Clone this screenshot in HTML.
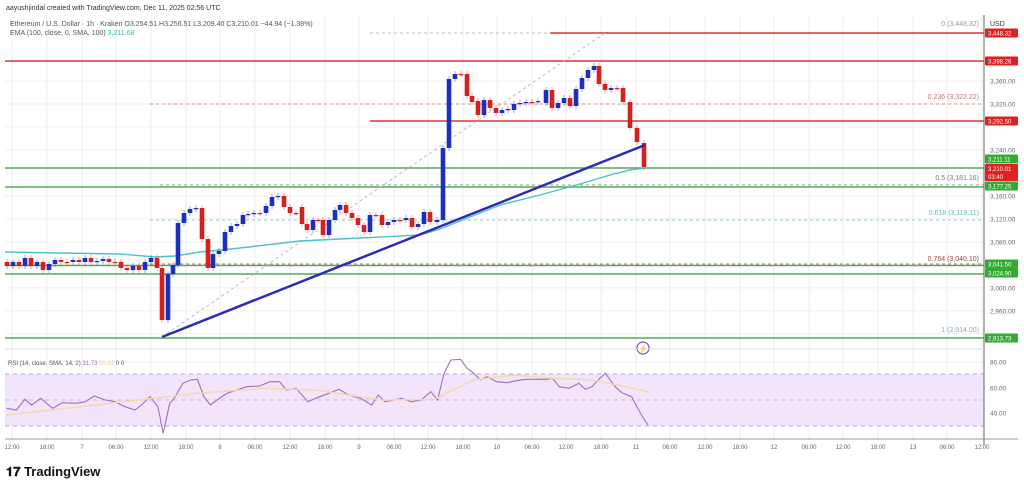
<!DOCTYPE html>
<html><head><meta charset="utf-8"><style>
html,body{margin:0;padding:0;background:#fff;width:1024px;height:488px;overflow:hidden;font-family:"Liberation Sans",sans-serif}
</style></head><body>
<svg id="s" width="1024" height="488" xmlns="http://www.w3.org/2000/svg" font-family="Liberation Sans, sans-serif">
<rect width="1024" height="488" fill="#fff"/>
<g id="grid"></g>
<!-- RSI band -->
<rect x="5" y="374" width="979" height="52" fill="#f1e4fb"/>
<line x1="5" y1="374" x2="984" y2="374" stroke="#b9a3cc" stroke-dasharray="4,4"/>
<line x1="5" y1="400" x2="984" y2="400" stroke="#c9b8d8" stroke-dasharray="4,4"/>
<line x1="5" y1="426" x2="984" y2="426" stroke="#b9a3cc" stroke-dasharray="4,4"/>
<!-- levels -->
<line x1="370" y1="33" x2="550" y2="33" stroke="#bbb" stroke-dasharray="3,3"/>
<line x1="550" y1="33" x2="984" y2="33" stroke="#d33" stroke-width="1.6"/>
<line x1="5" y1="61" x2="984" y2="61" stroke="#d33" stroke-width="1.6"/>
<line x1="150" y1="104" x2="984" y2="104" stroke="#c88" stroke-dasharray="3,3"/>
<line x1="370" y1="121" x2="984" y2="121" stroke="#d33" stroke-width="1.6"/>
<line x1="5" y1="168" x2="984" y2="168" stroke="#5a5" stroke-width="1.4"/>
<line x1="160" y1="185" x2="984" y2="185" stroke="#999" stroke-dasharray="3,3"/>
<line x1="5" y1="187" x2="984" y2="187" stroke="#5a5" stroke-width="1.4"/>
<line x1="150" y1="220" x2="984" y2="220" stroke="#9cc" stroke-dasharray="3,3"/>
<line x1="150" y1="264" x2="984" y2="264" stroke="#a77" stroke-dasharray="3,3"/>
<line x1="5" y1="265.5" x2="984" y2="265.5" stroke="#5a5" stroke-width="1.4"/>
<line x1="5" y1="274" x2="984" y2="274" stroke="#5a5" stroke-width="1.4"/>
<line x1="5" y1="338" x2="984" y2="338" stroke="#5a5" stroke-width="1.4"/>
<line x1="162" y1="337" x2="605" y2="33" stroke="#bbb" stroke-dasharray="3,3"/>
<polyline fill="none" stroke="#4cc3cc" stroke-width="1.4" points="5,252 60,253 120,254 155,257 175,256 200,252 240,248 300,241 360,238 420,235 440,229 470,217 500,205 540,195 580,184 610,175 630,170 645,168"/>
<g id="c"></g>
<line x1="162" y1="337" x2="645" y2="145" stroke="#2b2bb5" stroke-width="2.5"/>
<circle cx="643" cy="348" r="6" fill="#fff" stroke="#7a4fc0" stroke-width="1.2"/>
<text x="643" y="351.5" font-size="8" fill="#7a4fc0" text-anchor="middle">⚡</text>
<!-- RSI -->
<polyline id="rsi" fill="none" stroke="#a070c0" stroke-width="1.1"/>
<polyline id="sma" fill="none" stroke="#f5d9a8" stroke-width="1.4"/>
<!-- axes -->
<line x1="984" y1="15" x2="984" y2="445" stroke="#666"/>
<line x1="5" y1="439" x2="1018" y2="439" stroke="#999"/>
<line x1="5" y1="349" x2="984" y2="349" stroke="#ddd"/>
<g id="ax" font-size="6.5" fill="#666"></g>
<g id="tl" font-size="6" fill="#666" text-anchor="middle"></g>
<g id="fib" font-size="7" text-anchor="end">
<text x="979" y="26" fill="#999">0 (3,448.32)</text>
<text x="979" y="99" fill="#b77">0.236 (3,322.22)</text>
<text x="979" y="180" fill="#777">0.5 (3,181.16)</text>
<text x="979" y="215" fill="#6bb">0.618 (3,118.11)</text>
<text x="979" y="261" fill="#944">0.764 (3,040.10)</text>
<text x="979" y="332" fill="#8ac">1 (2,914.00)</text>
</g>
<text x="6" y="10" font-size="7" fill="#333">aayushjindal created with TradingView.com, Dec 11, 2025 02:56 UTC</text>
<text x="10" y="26" font-size="7" fill="#555">Ethereum / U.S. Dollar · 1h · Kraken  O3,254.51  H3,256.51  L3,209.40  C3,210.01  −44.94 (−1.38%)</text>
<text x="10" y="35" font-size="7" fill="#555">EMA (100, close, 0, SMA, 100) <tspan fill="#3bb">3,211.68</tspan></text>
<text x="8" y="365" font-size="6" fill="#555">RSI (14, close, SMA, 14, 2) <tspan fill="#a070c0">31.73</tspan> <tspan fill="#e8d28a">50.02</tspan> 0 0</text>
<text x="990" y="26" font-size="7" fill="#333">USD</text>
<text x="6" y="476" font-size="13" font-weight="bold" fill="#111">𝟏𝟕 TradingView</text>
</svg>
<script>
var S="http://www.w3.org/2000/svg";
function el(p,t,a,tx){var e=document.createElementNS(S,t);for(var k in a)e.setAttribute(k,a[k]);if(tx!=null)e.textContent=tx;document.getElementById(p).appendChild(e);return e;}
// grid
var tx=[12,47,82,116,151,186,220,255,290,325,359,394,428,463,497,532,566,601,636,670,705,740,774,809,843,878,913,947,982];
var tl=["12:00","18:00","7","06:00","12:00","18:00","8","06:00","12:00","18:00","9","06:00","12:00","18:00","10","06:00","12:00","18:00","11","06:00","12:00","18:00","12","06:00","12:00","18:00","13","06:00","12:00"];
tx.forEach(function(x,i){el("grid","line",{x1:x,y1:15,x2:x,y2:439,stroke:"#ececec"});el("tl","text",{x:x,y:449},tl[i]);});
for(var p=3360;p>=2920;p-=40){var y=81+(3360-p)*0.5745;el("grid","line",{x1:5,y1:y,x2:984,y2:y,stroke:"#efefef"});}
[362,388,413].forEach(function(y){el("grid","line",{x1:5,y1:y,x2:984,y2:y,stroke:"#efefef"});});
// axis labels
var al=[[81,"3,360.00"],[104,"3,320.00"],[150,"3,240.00"],[196,"3,160.00"],[219,"3,120.00"],[242,"3,080.00"],[288,"3,000.00"],[311,"2,960.00"],[362,"80.00"],[388,"60.00"],[413,"40.00"]];
al.forEach(function(a){el("ax","text",{x:990,y:a[0]+2.5},a[1]);});
var bx=[[33,"#d22","3,448.32"],[61,"#d22","3,398.26"],[121,"#d22","3,292.50"],[159,"#3a3","3,211.11"],[186,"#3a3","3,177.25"],[264,"#3a3","3,041.50"],[273,"#3a3","3,024.90"],[338,"#3a3","2,913.73"]];
bx.forEach(function(b){el("ax","rect",{x:985,y:b[0]-4.5,width:33,height:9,fill:b[1],rx:1});el("ax","text",{x:988,y:b[0]+2.3,fill:"#fff","font-size":6},b[2]);});
el("ax","rect",{x:985,y:164,width:33,height:17,fill:"#d22",rx:1});
el("ax","text",{x:988,y:171,fill:"#fff","font-size":6},"3,210.01");
el("ax","text",{x:988,y:179,fill:"#fff","font-size":6},"03:40");
// candles [x,open,close]
var d=[[7,262,266],[13,266,262],[19,262,266],[25,266,258],[31,258,266],[37,266,262],[43,262,270],[49,270,264],[55,264,260],[61,260,262],[67,262,262],[73,262,260],[79,260,262],[85,262,258],[91,258,262],[97,262,261],[103,261,259],[109,259,262],[115,262,262],[121,262,268],[127,268,270],[133,270,266],[139,266,270],[145,270,262],[151,262,258],[157,258,268],[162,268,320],[168,320,274],[173,274,265],[178,265,223],[184,223,213],[190,213,209],[196,209,208],[202,208,239],[208,239,268],[213,268,254],[219,254,251],[225,251,232],[231,232,226],[237,226,224],[243,224,215],[248,215,214],[254,214,213],[260,213,213],[266,213,206],[272,206,197],[278,197,196],[284,196,207],[290,207,213],[296,213,213],[302,207,224],[307,224,230],[313,230,220],[318,220,220],[323,220,235],[329,235,220],[335,220,210],[340,210,205],[346,205,213],[352,213,218],[358,218,225],[364,225,232],[370,232,215],[376,215,215],[382,215,225],[388,225,222],[394,222,220],[400,220,220],[406,220,218],[412,218,227],[418,227,224],[424,224,212],[430,212,222],[437,222,220],[443,220,148],[449,148,79],[455,79,74],[461,74,74],[467,74,96],[472,96,102],[478,101,115],[484,115,100],[490,100,108],[496,108,113],[502,113,110],[508,110,109],[514,110,104],[520,104,103],[526,103,102],[532,102,102],[538,102,101],[546,103,90],[552,90,108],[558,108,103],[564,103,98],[570,98,106],[576,106,89],[582,89,78],[588,78,70],[594,70,66],[599,66,84],[605,84,90],[611,90,88],[617,88,88],[623,88,102],[630,102,128],[637,128,142],[644,143,167]];
d.forEach(function(c){var up=c[2]<c[1],col=up?"#1c2fbf":"#d62020";var t=Math.min(c[1],c[2]),b=Math.max(c[1],c[2]);
el("c","line",{x1:c[0],y1:t-3,x2:c[0],y2:b+3,stroke:col,"stroke-width":0.7,opacity:0.6});
el("c","rect",{x:c[0]-2.3,y:t,width:4.6,height:Math.max(b-t,1.2),fill:col});});
// rsi
var r=[[10,205],[25,210],[38,178],[48,195],[62,175],[80,205],[95,188],[115,190],[130,185],[143,168],[160,180],[175,185],[190,200],[205,210],[215,195],[228,170],[240,200],[248,280],[258,190],[265,175],[278,130],[290,120],[300,118],[310,170],[320,195],[330,180],[345,160],[360,150],[375,140],[395,138],[410,125],[425,125],[435,150],[450,145],[468,185],[480,175],[500,160],[515,148],[530,165],[548,175],[565,195],[575,165],[585,185],[600,180],[610,175],[625,185],[640,180],[655,155],[665,180],[675,100],[685,60],[700,58],[710,85],[720,100],[730,120],[740,110],[755,125],[770,128],[785,122],[800,118],[815,118],[830,118],[840,115],[850,140],[865,145],[880,130],[890,148],[900,140],[910,118],[920,100],[935,140],[945,158],[960,170],[975,225],[985,255]];
function pts(a){return a.map(function(q){return (q[0]/1.52).toFixed(1)+","+(q[1]/3+340).toFixed(1);}).join(" ");}
document.getElementById("rsi").setAttribute("points",pts(r));
document.getElementById("sma").setAttribute("points",pts([[10,225],[100,205],[200,182],[300,160],[400,145],[480,150],[580,180],[660,178],[720,120],[780,105],[840,115],[900,120],[950,140],[985,155]]));
</script>
</body></html>
